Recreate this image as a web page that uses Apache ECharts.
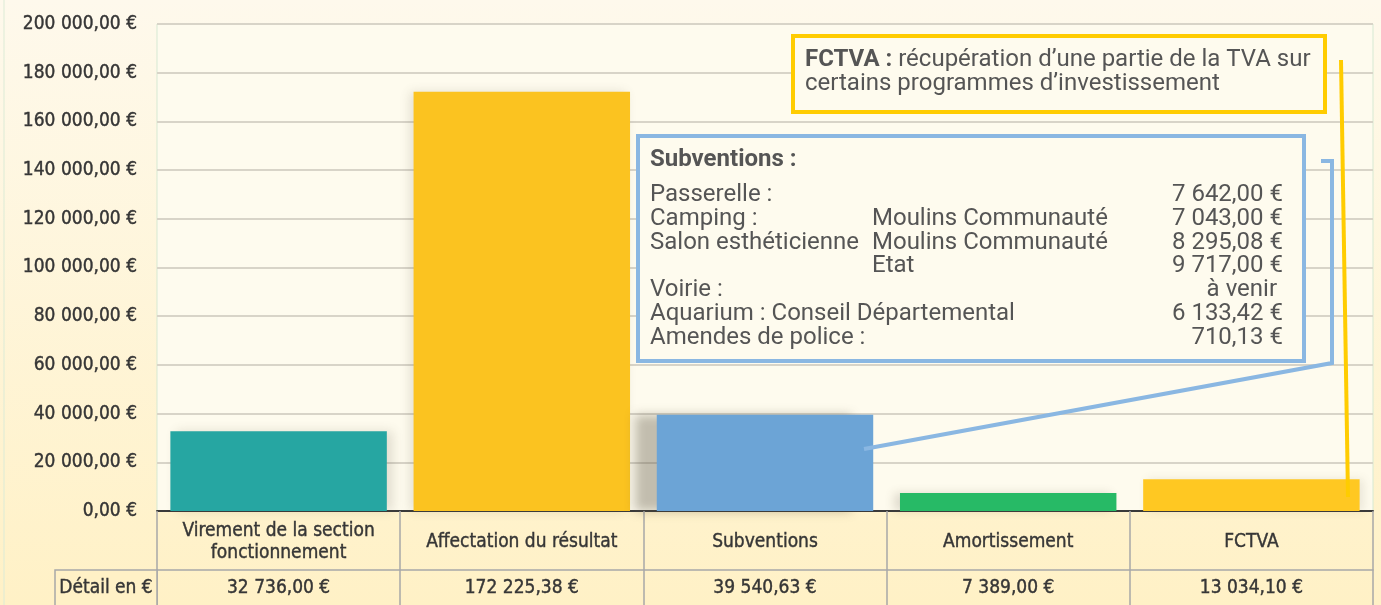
<!DOCTYPE html>
<html>
<head>
<meta charset="utf-8">
<script src="https://cdn.jsdelivr.net/npm/echarts@6/dist/echarts.min.js"></script>
<style>
  html, body { margin: 0; padding: 0; }
  #chart { width: 1381px; height: 605px; }
</style>
</head>
<body>
<div id="chart"></div>
<script>
var categories = ['Virement de la section\nfonctionnement', 'Affectation du résultat', 'Subventions', 'Amortissement', 'FCTVA'];
var values = [32736.00, 172225.38, 39540.63, 7389.00, 13034.10];
var colors = ['#26a6a2', '#fbc320', '#6ca4d6', '#27ba66', '#ffc822'];
var rowTitle = 'Détail en €';

var subvTitle = 'Subventions :';
var subvLabels = ['Passerelle :', 'Camping :', 'Salon esthéticienne', '', 'Voirie :', 'Aquarium : Conseil Départemental', 'Amendes de police :'];
var subvDonors = ['', 'Moulins Communauté', 'Moulins Communauté', 'Etat', '', '', ''];
var subvAmounts = ['7 642,00 €', '7 043,00 €', '8 295,08 €', '9 717,00 €', 'à venir ', '6 133,42 €', '710,13 €'];

var fctvaBold = 'FCTVA :';
var fctvaText = ' récupération d’une partie de la TVA sur';
var fctvaText2 = 'certains programmes d’investissement';

var narrow = "'Liberation Sans Narrow', 'DejaVu Sans Condensed', sans-serif";
var roboto = "Roboto, 'Noto Sans', sans-serif";

function euro(v) {
  var p = v.toFixed(2).split('.');
  return p[0].replace(/\B(?=(\d{3})+(?!\d))/g, ' ') + ',' + p[1] + ' €';
}

var dom = document.getElementById('chart');
var chart = echarts.init(dom);

// soft shadow cast by each bar; the Subventions one falls to the left
var shadows = [
  { x: 6, c: 'rgba(90, 80, 60, 0.16)' },
  { x: -4, c: 'rgba(90, 80, 60, 0.16)' },
  { x: -22, c: 'rgba(90, 80, 60, 0.36)' },
  { x: -6, c: 'rgba(90, 80, 60, 0.18)' },
  { x: 4, c: 'rgba(90, 80, 60, 0.12)' }
];

var barData = values.map(function (v, i) {
  return {
    value: v,
    itemStyle: {
      color: colors[i],
      shadowColor: shadows[i].c,
      shadowBlur: 10,
      shadowOffsetX: shadows[i].x
    }
  };
});

var labelStyle = {
  fontFamily: narrow, fontSize: 19, color: '#363636',
  textBorderColor: '#363636', textBorderWidth: 0.4
};

var option = {
  animation: false,
  backgroundColor: {
    type: 'linear', x: 0, y: 0, x2: 0, y2: 1,
    colorStops: [{ offset: 0, color: '#fef9ec' }, { offset: 1, color: '#fff1c6' }]
  },
  grid: {
    left: 157, right: 8, top: 24, bottom: 94,
    show: true, backgroundColor: '#fefbee', borderColor: '#d6e9d3', borderWidth: 1
  },
  xAxis: [{
    type: 'category',
    data: categories,
    position: 'bottom',
    axisLine: { lineStyle: { color: '#3a3a3a', width: 2 } },
    axisTick: { show: true, interval: 0, length: 59, lineStyle: { color: '#a8a8a8', width: 1.5 } },
    axisLabel: Object.assign({ interval: 0, margin: 31, verticalAlign: 'middle', lineHeight: 22 }, labelStyle),
    splitLine: { show: false }
  }, {
    type: 'category',
    data: values.map(euro),
    position: 'bottom',
    offset: 59,
    axisLine: { lineStyle: { color: '#a8a8a8', width: 1.5 } },
    axisTick: { show: true, interval: 0, length: 40, lineStyle: { color: '#a8a8a8', width: 1.5 } },
    axisLabel: Object.assign({ interval: 0, margin: 18, verticalAlign: 'middle' }, labelStyle),
    splitLine: { show: false }
  }],
  yAxis: {
    type: 'value',
    min: 0, max: 200000, interval: 20000,
    axisLine: { show: false },
    axisTick: { show: false },
    axisLabel: Object.assign({ margin: 20, formatter: euro }, labelStyle),
    splitLine: { lineStyle: { color: '#d8d4c8', width: 2 } }
  },
  series: [{
    type: 'bar',
    data: barData,
    barWidth: '89%'
  }],
  graphic: [
    // header cell of the value row
    {
      type: 'rect', shape: { x: 55, y: 570, width: 102, height: 45 },
      style: { fill: '#fff1c6', stroke: '#a8a8a8', lineWidth: 1.5 }, z: 10
    },
    {
      type: 'text', x: 106, y: 588, z: 11,
      style: {
        text: rowTitle, font: '19px ' + narrow, fill: '#363636', stroke: '#363636', lineWidth: 0.4,
        textAlign: 'center', textVerticalAlign: 'middle'
      }
    },
    // FCTVA note
    {
      type: 'rect', shape: { x: 793, y: 36, width: 532, height: 76 },
      style: { fill: '#fefbee', stroke: '#ffcc00', lineWidth: 4 }, z: 20
    },
    {
      type: 'text', x: 805, y: 72, z: 21,
      style: {
        text: '{b|' + fctvaBold + '}{n|' + fctvaText + '}\n{n|' + fctvaText2 + '}',
        textVerticalAlign: 'middle',
        rich: {
          b: { font: 'bold 24px ' + roboto, fill: '#555', lineHeight: 24 },
          n: { font: '24px ' + roboto, fill: '#555', lineHeight: 24 }
        }
      }
    },
    {
      type: 'line', shape: { x1: 1341, y1: 60, x2: 1348, y2: 497 },
      style: { stroke: '#ffcc00', lineWidth: 4 }, z: 20
    },
    // Subventions note
    {
      type: 'rect', shape: { x: 638, y: 136, width: 666, height: 225 },
      style: { fill: '#fefbee', stroke: '#8ab7e2', lineWidth: 4 }, z: 20
    },
    {
      type: 'polyline', shape: { points: [[1321, 161], [1332, 161], [1332, 363], [864, 449]] },
      style: { stroke: '#8ab7e2', lineWidth: 4, fill: null }, z: 20
    },
    {
      type: 'text', x: 650, y: 160, z: 21,
      style: { text: subvTitle, font: 'bold 24px ' + roboto, fill: '#555', textVerticalAlign: 'middle' }
    },
    {
      type: 'text', x: 650, y: 183, z: 21,
      style: { text: subvLabels.join('\n'), font: '24px ' + roboto, fill: '#555', lineHeight: 23.8 }
    },
    {
      type: 'text', x: 872, y: 183, z: 21,
      style: { text: subvDonors.join('\n'), font: '24px ' + roboto, fill: '#555', lineHeight: 23.8 }
    },
    {
      type: 'text', x: 1283, y: 183, z: 21,
      style: { text: subvAmounts.join('\n'), font: '24px ' + roboto, fill: '#555', lineHeight: 23.8, textAlign: 'right' }
    },
    // outer frame line on the left
    {
      type: 'line', shape: { x1: 4, y1: 0, x2: 4, y2: 605 },
      style: { stroke: '#dcebd6', lineWidth: 1 }
    }
  ]
};

chart.setOption(option);
</script>
</body>
</html>
